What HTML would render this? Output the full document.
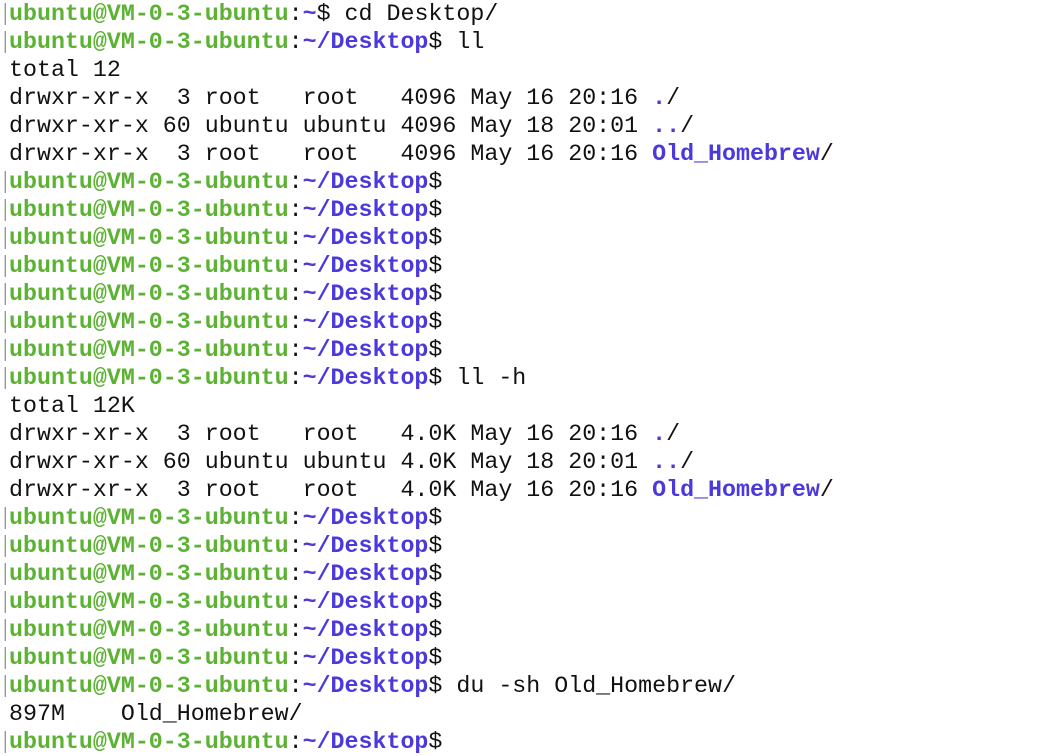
<!DOCTYPE html>
<html><head><meta charset="utf-8"><style>
html,body{margin:0;padding:0;background:#fff;width:1064px;height:756px;overflow:hidden}
pre{margin:0;position:absolute;left:9px;top:0px;font-family:"Liberation Mono",monospace;font-size:23.3px;line-height:28px;color:#111}
.g{color:#5cb233;font-weight:bold}.b{color:#4b39dc;font-weight:bold}
.br{position:absolute;left:0;width:6px;color:#999;font-family:"Liberation Mono",monospace;font-size:23px;line-height:28px;overflow:hidden}
</style></head><body>
<pre><span class="g">ubuntu@VM-0-3-ubuntu</span>:<span class="b">~</span>$ cd Desktop/
<span class="g">ubuntu@VM-0-3-ubuntu</span>:<span class="b">~/Desktop</span>$ ll
total 12
drwxr-xr-x  3 root   root   4096 May 16 20:16 <span class="b">.</span>/
drwxr-xr-x 60 ubuntu ubuntu 4096 May 18 20:01 <span class="b">..</span>/
drwxr-xr-x  3 root   root   4096 May 16 20:16 <span class="b">Old_Homebrew</span>/
<span class="g">ubuntu@VM-0-3-ubuntu</span>:<span class="b">~/Desktop</span>$
<span class="g">ubuntu@VM-0-3-ubuntu</span>:<span class="b">~/Desktop</span>$
<span class="g">ubuntu@VM-0-3-ubuntu</span>:<span class="b">~/Desktop</span>$
<span class="g">ubuntu@VM-0-3-ubuntu</span>:<span class="b">~/Desktop</span>$
<span class="g">ubuntu@VM-0-3-ubuntu</span>:<span class="b">~/Desktop</span>$
<span class="g">ubuntu@VM-0-3-ubuntu</span>:<span class="b">~/Desktop</span>$
<span class="g">ubuntu@VM-0-3-ubuntu</span>:<span class="b">~/Desktop</span>$
<span class="g">ubuntu@VM-0-3-ubuntu</span>:<span class="b">~/Desktop</span>$ ll -h
total 12K
drwxr-xr-x  3 root   root   4.0K May 16 20:16 <span class="b">.</span>/
drwxr-xr-x 60 ubuntu ubuntu 4.0K May 18 20:01 <span class="b">..</span>/
drwxr-xr-x  3 root   root   4.0K May 16 20:16 <span class="b">Old_Homebrew</span>/
<span class="g">ubuntu@VM-0-3-ubuntu</span>:<span class="b">~/Desktop</span>$
<span class="g">ubuntu@VM-0-3-ubuntu</span>:<span class="b">~/Desktop</span>$
<span class="g">ubuntu@VM-0-3-ubuntu</span>:<span class="b">~/Desktop</span>$
<span class="g">ubuntu@VM-0-3-ubuntu</span>:<span class="b">~/Desktop</span>$
<span class="g">ubuntu@VM-0-3-ubuntu</span>:<span class="b">~/Desktop</span>$
<span class="g">ubuntu@VM-0-3-ubuntu</span>:<span class="b">~/Desktop</span>$
<span class="g">ubuntu@VM-0-3-ubuntu</span>:<span class="b">~/Desktop</span>$ du -sh Old_Homebrew/
897M    Old_Homebrew/
<span class="g">ubuntu@VM-0-3-ubuntu</span>:<span class="b">~/Desktop</span>$</pre>
<div class="br" style="top:0px">[</div><div class="br" style="top:28px">[</div>
<div class="br" style="top:168px">[</div><div class="br" style="top:196px">[</div><div class="br" style="top:224px">[</div><div class="br" style="top:252px">[</div><div class="br" style="top:280px">[</div><div class="br" style="top:308px">[</div><div class="br" style="top:336px">[</div><div class="br" style="top:364px">[</div>
<div class="br" style="top:504px">[</div><div class="br" style="top:532px">[</div><div class="br" style="top:560px">[</div><div class="br" style="top:588px">[</div><div class="br" style="top:616px">[</div><div class="br" style="top:644px">[</div><div class="br" style="top:672px">[</div>
<div class="br" style="top:728px">[</div>
</body></html>
